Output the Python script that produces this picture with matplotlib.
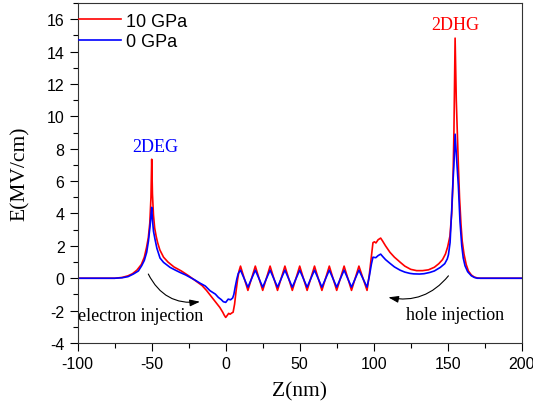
import numpy as np
import matplotlib.pyplot as plt
from matplotlib.ticker import MultipleLocator

plt.rcParams["axes.unicode_minus"] = False

# field profile along z (nm), E in MV/cm
z_10 = [-100, -75, -70, -66, -63, -60, -57, -55, -53.5, -52.3, -51.3, -50.5, -50,
        -49.5, -48.8, -48, -47, -46, -44.5, -42, -39, -35, -30, -25, -22, -19,
        -16, -13, -10, -7, -4, -2, -1, 0, 1, 2, 3, 4, 5, 6, 7, 8, 9, 10,
        15, 20, 25, 30, 35, 40, 45, 50, 55, 60, 65, 70, 75, 80, 85, 90, 95.5,
        97, 98.5, 99.5, 100.5, 101.5, 103, 104.7, 106, 108, 111, 114, 118, 121,
        125, 129, 133, 137, 141, 144, 146.5, 148.5, 150, 151.5, 152.7, 153.5,
        154.2, 155, 155.8, 156.5, 157.2, 158, 159, 159.8, 161, 162.5, 164, 166,
        168, 170, 172, 200]
e_10 = [0, 0, 0.05, 0.15, 0.28, 0.5, 0.85, 1.3, 1.9, 2.5, 3.4, 5.0, 7.35,
        5.2, 3.9, 3.1, 2.6, 2.2, 1.75, 1.3, 1.0, 0.7, 0.45, 0.15, -0.05, -0.25,
        -0.45, -0.75, -1.1, -1.45, -1.8, -2.1, -2.28, -2.42, -2.3, -2.17, -2.22, -2.15, -2.1, -1.6, -0.8, -0.1, 0.45, 0.75,
        -0.75, 0.75, -0.75, 0.75, -0.75, 0.75, -0.75, 0.75, -0.75, 0.75, -0.75, 0.75, -0.75, 0.75, -0.75, 0.75, -0.75,
        0.2, 1.4, 2.2, 2.25, 2.18, 2.38, 2.48, 2.3, 2.0, 1.6, 1.3, 0.98, 0.75,
        0.55, 0.47, 0.47, 0.52, 0.68, 0.9, 1.15, 1.5, 1.95, 2.6, 4.0, 5.7,
        9.0, 14.83, 11.0, 9.0, 7.0, 5.0, 3.3, 2.3, 1.5, 0.85, 0.45, 0.2,
        0.07, 0.02, 0, 0]

z_0 = [-100, -75, -70, -66, -62.4, -59, -56.8, -55, -53.4, -52.2, -51.1, -50.4, -50,
       -49.5, -48.8, -47.8, -46.5, -44.4, -42, -37.6, -34, -30.9, -27, -24, -21,
       -17.4, -13.8, -10.6, -7, -5, -3, -1.6, 0, 1.7, 3.3, 4.7, 5.5, 6.5, 7.5, 8.5, 10,
       15, 20, 25, 30, 35, 40, 45, 50, 55, 60, 65, 70, 75, 80, 85, 90, 95.5,
       97, 98.5, 99.5, 101.4, 103, 104.7, 106, 108, 111, 114, 117.8, 121, 124.5,
       127, 131, 134, 138, 141, 145, 148, 149.7, 150.5, 151.6, 152.7, 153.4, 154.2,
       155, 156, 157.2, 158.3, 159.5, 160.5, 161.7, 163.5, 166, 168, 170, 200]
e_0 = [0, 0, 0.03, 0.1, 0.26, 0.45, 0.77, 1.1, 1.6, 2.3, 3.24, 4.0, 4.38,
       3.6, 2.9, 2.42, 1.85, 1.25, 0.98, 0.67, 0.5, 0.36, 0.2, 0.05, -0.1,
       -0.3, -0.48, -0.77, -0.98, -1.18, -1.32, -1.45, -1.49, -1.29, -1.33, -1.22, -1.0, -0.5, -0.05, 0.3, 0.5,
       -0.55, 0.5, -0.55, 0.5, -0.55, 0.5, -0.55, 0.5, -0.55, 0.5, -0.55, 0.5, -0.55, 0.5, -0.55, 0.5, -0.55,
       0.1, 0.9, 1.3, 1.27, 1.4, 1.49, 1.35, 1.15, 0.92, 0.7, 0.5, 0.38, 0.3,
       0.27, 0.26, 0.28, 0.36, 0.45, 0.67, 0.9, 1.19, 1.45, 2.2, 4.2, 5.7, 7.0,
       8.9, 7.4, 5.7, 3.5, 2.0, 1.25, 0.77, 0.4, 0.15, 0.05, 0.0, 0]

labels = ["10 GPa", "0 GPa"]

serif = "Liberation Serif"
sans = "Liberation Sans"

fig = plt.figure(figsize=(5.33, 4.06), dpi=100)
ax = fig.add_axes([0.1458, 0.1527, 0.8330, 0.8374])

ax.plot(z_10, e_10, color="#ff0000", lw=1.2, label=labels[0])
ax.plot(z_0, e_0, color="#0000ff", lw=1.2, label=labels[1])

ax.set_xlim(-100, 200)
ax.set_ylim(-4, 17)
ax.xaxis.set_major_locator(MultipleLocator(50))
ax.xaxis.set_minor_locator(MultipleLocator(25))
ax.yaxis.set_major_locator(MultipleLocator(2))
ax.yaxis.set_minor_locator(MultipleLocator(1))
ax.tick_params(which="major", direction="out", length=6, width=0.8,
               labelsize=11.5, top=False, right=False)
ax.tick_params(which="minor", direction="out", length=3.5, width=0.8,
               top=False, right=False)
for lab in ax.get_xticklabels() + ax.get_yticklabels():
    lab.set_fontfamily(sans)
for s in ax.spines.values():
    s.set_linewidth(0.8)
    s.set_color("#333333")

ax.set_xlabel("Z(nm)", fontsize=15.5, fontfamily=serif, labelpad=7)
ax.set_ylabel("E(MV/cm)", fontsize=15.5, fontfamily=serif, labelpad=12)

ax.text(-47.8, 8.15, "2DEG", color="#0000ff", fontsize=13, fontfamily=serif,
        ha="center", va="center")
ax.text(155.2, 15.7, "2DHG", color="#ff0000", fontsize=13, fontfamily=serif,
        ha="center", va="center")
ax.text(-99.6, -2.33, "electron injection", fontsize=13, fontfamily=serif,
        ha="left", va="center")
ax.text(155.3, -2.27, "hole injection", fontsize=13, fontfamily=serif,
        ha="center", va="center")

arrow = dict(arrowstyle="-|>,head_length=0.6,head_width=0.2", color="black", lw=0.8,
             shrinkA=0, shrinkB=0)
ax.annotate("", xy=(-17.4, -1.45), xytext=(-52.3, 0.26),
            arrowprops=dict(arrow, connectionstyle="arc3,rad=0.35"))
ax.annotate("", xy=(109.9, -1.18), xytext=(150.5, 0.15),
            arrowprops=dict(arrow, connectionstyle="arc3,rad=-0.3"))

ax.legend(loc="upper left", bbox_to_anchor=(0.003, 0.972), frameon=False,
          borderpad=0, borderaxespad=0, handlelength=2.3, handletextpad=0.3,
          labelspacing=0.2, prop={"family": sans, "size": 13})

fig.savefig("out.png", dpi=100)
